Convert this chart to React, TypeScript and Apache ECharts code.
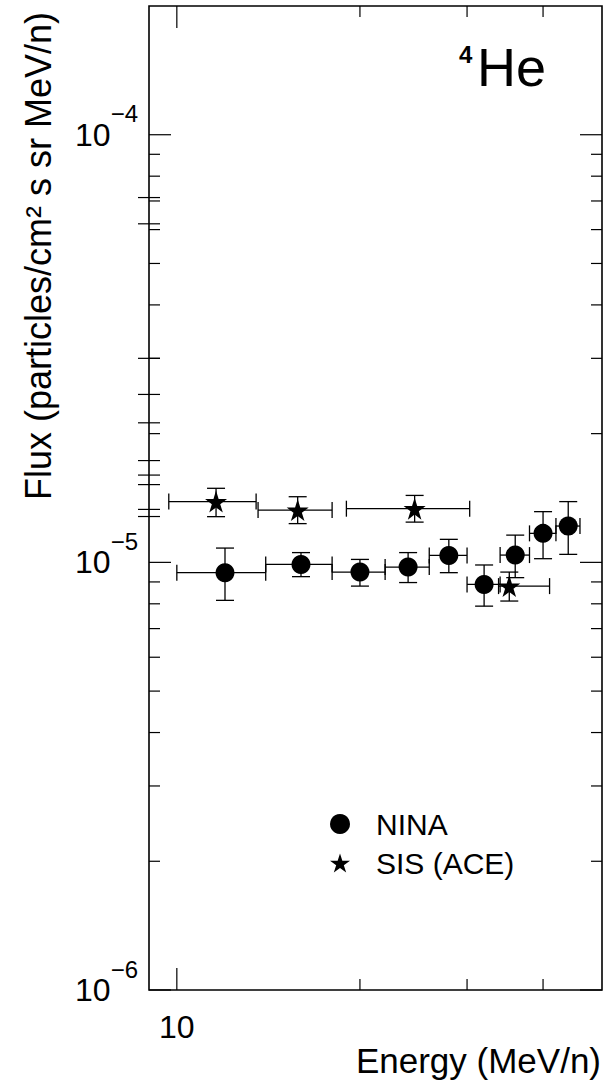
import React, { useEffect, useRef } from "react";
import * as echarts from "echarts";

// ---- NINA (circles) ----
const ninaEnergy = [12, 16, 20, 24, 28, 32, 36, 40, 44];
const ninaEnergyLow = [10, 14, 18, 22, 26, 30, 34, 38, 42];
const ninaEnergyHigh = [14, 18, 22, 26, 30, 34, 38, 42, 46];
const ninaFlux = [9.46e-6, 9.89e-6, 9.49e-6, 9.75e-6, 1.038e-5, 8.88e-6, 1.04e-5, 1.169e-5, 1.216e-5];
const ninaFluxLow = [8.15e-6, 9.26e-6, 8.8e-6, 8.97e-6, 9.46e-6, 7.9e-6, 9.21e-6, 1.02e-5, 1.044e-5];
const ninaFluxHigh = [1.08e-5, 1.054e-5, 1.016e-5, 1.054e-5, 1.132e-5, 9.86e-6, 1.158e-5, 1.314e-5, 1.387e-5];

// ---- SIS (ACE) (stars) ----
const sisEnergy = [11.6, 15.8, 24.6, 35.2];
const sisEnergyLow = [9.7, 13.6, 19, 33.8];
const sisEnergyHigh = [13.5, 18, 30.3, 41];
const sisFlux = [1.387e-5, 1.325e-5, 1.335e-5, 8.8e-6];
const sisFluxLow = [1.279e-5, 1.232e-5, 1.242e-5, 8.12e-6];
const sisFluxHigh = [1.49e-5, 1.424e-5, 1.434e-5, 9.49e-6];

// ---- axes ----
const xMin = 9;
const xMax = 50;
const yMin = 1e-6;
const yMax = 2e-4;
const xLabelValues = [10];
const xMajorTicks = [10];
const xMinorTicks = [20, 30, 40];
const yMajorTicks = [1e-6, 1e-5, 1e-4];
const yMinorTicks = [
  2e-6, 3e-6, 4e-6, 5e-6, 6e-6, 7e-6, 8e-6, 9e-6,
  2e-5, 3e-5, 4e-5, 5e-5, 6e-5, 7e-5, 8e-5, 9e-5,
];
const yStrayTicks = [7.13e-5, 6.19e-5, 3e-5, 2.47e-5, 2.12e-5, 1.73e-5, 1.6e-5, 1.52e-5, 1.33e-5, 1.28e-5];

const FONT = "'Liberation Sans', Arial, Helvetica, sans-serif";
const STAR =
  "path://M50,0 L61.2,34.5 L97.6,34.5 L68.2,55.9 L79.4,90.5 L50,69.1 L20.6,90.5 L31.8,55.9 L2.4,34.5 L38.8,34.5 Z";

function errorSeries(name: string, e: number[], elo: number[], ehi: number[], f: number[], flo: number[], fhi: number[]) {
  return {
    type: "custom",
    name,
    silent: true,
    z: 3,
    data: e.map((v, i) => [v, f[i], elo[i], ehi[i], flo[i], fhi[i]]),
    encode: { x: 0, y: 1 },
    renderItem: (params: any, api: any) => {
      const c = api.coord([api.value(0), api.value(1)]);
      const l = api.coord([api.value(2), api.value(1)]);
      const r = api.coord([api.value(3), api.value(1)]);
      const lo = api.coord([api.value(0), api.value(4)]);
      const hi = api.coord([api.value(0), api.value(5)]);
      const style = { stroke: "#000", lineWidth: 1.3 };
      const capV = 8;
      const capH = 9;
      return {
        type: "group",
        children: [
          { type: "line", shape: { x1: l[0], y1: c[1], x2: r[0], y2: c[1] }, style },
          { type: "line", shape: { x1: c[0], y1: lo[1], x2: c[0], y2: hi[1] }, style },
          { type: "line", shape: { x1: l[0], y1: c[1] - capV, x2: l[0], y2: c[1] + capV }, style },
          { type: "line", shape: { x1: r[0], y1: c[1] - capV, x2: r[0], y2: c[1] + capV }, style },
          { type: "line", shape: { x1: c[0] - capH, y1: lo[1], x2: c[0] + capH, y2: lo[1] }, style },
          { type: "line", shape: { x1: c[0] - capH, y1: hi[1], x2: c[0] + capH, y2: hi[1] }, style },
        ],
      };
    },
  };
}

function yTickSeries(values: number[], len: number, mode: "in" | "cross") {
  return {
    type: "custom",
    silent: true,
    z: 2,
    data: values.map((v) => [10, v]),
    encode: { x: 0, y: 1 },
    renderItem: (params: any, api: any) => {
      const cs = params.coordSys;
      const p = api.coord([10, api.value(1)]);
      const style = { stroke: "#000", lineWidth: 1.2 };
      if (mode === "cross") {
        return {
          type: "line",
          shape: { x1: cs.x - len, y1: p[1], x2: cs.x + len, y2: p[1] },
          style,
        };
      }
      return {
        type: "group",
        children: [
          { type: "line", shape: { x1: cs.x, y1: p[1], x2: cs.x + len, y2: p[1] }, style },
          { type: "line", shape: { x1: cs.x + cs.width - len, y1: p[1], x2: cs.x + cs.width, y2: p[1] }, style },
        ],
      };
    },
  };
}

function xTickSeries(values: number[], len: number) {
  return {
    type: "custom",
    silent: true,
    z: 2,
    data: values.map((v) => [v, 1e-5]),
    encode: { x: 0, y: 1 },
    renderItem: (params: any, api: any) => {
      const cs = params.coordSys;
      const p = api.coord([api.value(0), 1e-5]);
      const style = { stroke: "#000", lineWidth: 1.2 };
      return {
        type: "group",
        children: [
          { type: "line", shape: { x1: p[0], y1: cs.y + cs.height, x2: p[0], y2: cs.y + cs.height - len }, style },
          { type: "line", shape: { x1: p[0], y1: cs.y, x2: p[0], y2: cs.y + len }, style },
        ],
      };
    },
  };
}

export default function App() {
  const ref = useRef<HTMLDivElement>(null);
  useEffect(() => {
    if (!ref.current) return;
    const chart = echarts.init(ref.current, undefined, { renderer: "svg" });
    chart.setOption({
      animation: false,
      backgroundColor: "#fff",
      grid: {
        left: 149,
        right: 11,
        top: 6,
        bottom: 91,
        show: true,
        borderColor: "#000",
        borderWidth: 1.6,
      },
      xAxis: {
        type: "log",
        logBase: 10,
        min: xMin,
        max: xMax,
        axisLine: { show: false },
        axisTick: { show: false },
        splitLine: { show: false },
        axisLabel: {
          margin: 21,
          fontSize: 32,
          fontFamily: FONT,
          color: "#000",
          formatter: (v: number) => (xLabelValues.some((t) => Math.abs(v / t - 1) < 1e-6) ? String(Math.round(v)) : ""),
        },
      },
      yAxis: {
        type: "log",
        logBase: 10,
        min: yMin,
        max: yMax,
        axisLine: { show: false },
        axisTick: { show: false },
        splitLine: { show: false },
        axisLabel: {
          margin: 11,
          color: "#000",
          fontFamily: FONT,
          formatter: (v: number) => {
            const e = Math.log10(v);
            const r = Math.round(e);
            if (Math.abs(e - r) > 1e-6) return "";
            return "{b|10}{s|\u2212" + Math.abs(r) + "}";
          },
          rich: {
            b: { fontSize: 32, fontFamily: FONT, color: "#000", lineHeight: 46 },
            s: { fontSize: 24, fontFamily: FONT, color: "#000", height: 4, verticalAlign: "top" },
          },
        },
      },
      legend: {
        orient: "vertical",
        left: 325,
        top: 804,
        itemWidth: 20,
        itemHeight: 20,
        itemGap: 9,
        selectedMode: false,
        itemStyle: { opacity: 1 },
        textStyle: { fontSize: 30, fontFamily: FONT, color: "#000", padding: [0, 0, 0, 21] },
        data: [
          { name: "NINA", icon: "circle" },
          { name: "SIS (ACE)", icon: STAR },
        ],
      },
      graphic: [
        {
          type: "text",
          left: 459,
          top: 42,
          style: { text: "4", fontSize: 24, fontFamily: FONT, fill: "#000", fontWeight: "bold" },
        },
        {
          type: "text",
          left: 477,
          top: 40,
          style: { text: "He", fontSize: 54, fontFamily: FONT, fill: "#000" },
        },
        {
          type: "text",
          right: 12,
          top: 1043,
          style: { text: "Energy (MeV/n)", fontSize: 35, fontFamily: FONT, fill: "#000" },
        },
        {
          type: "text",
          x: 38,
          y: 256,
          rotation: Math.PI / 2,
          style: {
            text: "Flux (particles/cm\u00b2 s sr MeV/n)",
            fontSize: 36,
            fontFamily: FONT,
            fill: "#000",
            align: "center",
            verticalAlign: "middle",
          },
        },
      ],
      series: [
        yTickSeries(yMajorTicks, 22, "in"),
        yTickSeries(yMinorTicks, 11, "in"),
        yTickSeries(yStrayTicks, 11, "cross"),
        xTickSeries(xMajorTicks, 22),
        xTickSeries(xMinorTicks, 11),
        errorSeries("NINA err", ninaEnergy, ninaEnergyLow, ninaEnergyHigh, ninaFlux, ninaFluxLow, ninaFluxHigh),
        errorSeries("SIS err", sisEnergy, sisEnergyLow, sisEnergyHigh, sisFlux, sisFluxLow, sisFluxHigh),
        {
          type: "scatter",
          name: "NINA",
          symbol: "circle",
          symbolSize: 19,
          itemStyle: { color: "#000", opacity: 1 },
          z: 4,
          data: ninaEnergy.map((e, i) => [e, ninaFlux[i]]),
        },
        {
          type: "scatter",
          name: "SIS (ACE)",
          symbol: STAR,
          symbolSize: 22,
          itemStyle: { color: "#000", opacity: 1 },
          z: 4,
          data: sisEnergy.map((e, i) => [e, sisFlux[i]]),
        },
      ],
    });
    return () => chart.dispose();
  }, []);
  return (
    <div
      ref={ref}
      style={{ position: "absolute", left: 0, top: 0, width: 613, height: 1081, background: "#fff" }}
    />
  );
}
